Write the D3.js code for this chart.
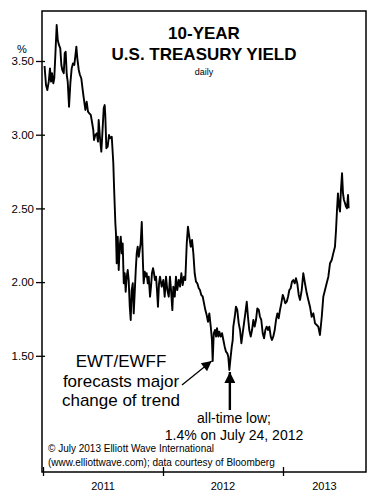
<!DOCTYPE html>
<html><head><meta charset="utf-8">
<script src="https://cdn.jsdelivr.net/npm/d3@7"></script>
<style>html,body{margin:0;padding:0;background:#fff;}svg{display:block;font-family:"Liberation Sans",Arial,sans-serif;}</style>
</head><body>
<script>
// decimal-year dates of the daily series (sampled)
const dates = [2011.013,2011.025,2011.036,2011.048,2011.058,2011.067,2011.075,2011.086,2011.094,2011.103,2011.114,2011.123,2011.133,2011.144,2011.153,2011.161,2011.173,2011.181,2011.189,2011.198,2011.206,2011.217,2011.228,2011.239,2011.250,2011.261,2011.269,2011.278,2011.286,2011.298,2011.308,2011.319,2011.331,2011.342,2011.353,2011.364,2011.375,2011.386,2011.398,2011.408,2011.419,2011.425,2011.436,2011.448,2011.458,2011.464,2011.475,2011.486,2011.494,2011.506,2011.514,2011.519,2011.528,2011.539,2011.550,2011.558,2011.573,2011.586,2011.592,2011.598,2011.603,2011.608,2011.614,2011.623,2011.631,2011.639,2011.648,2011.656,2011.664,2011.673,2011.681,2011.689,2011.698,2011.706,2011.714,2011.723,2011.731,2011.739,2011.748,2011.756,2011.764,2011.773,2011.781,2011.789,2011.798,2011.806,2011.814,2011.823,2011.829,2011.833,2011.839,2011.848,2011.856,2011.864,2011.873,2011.881,2011.892,2011.900,2011.908,2011.917,2011.925,2011.933,2011.942,2011.950,2011.958,2011.967,2011.975,2011.989,2012.003,2012.014,2012.025,2012.036,2012.048,2012.058,2012.067,2012.078,2012.086,2012.098,2012.108,2012.119,2012.131,2012.142,2012.153,2012.164,2012.175,2012.186,2012.198,2012.208,2012.219,2012.231,2012.242,2012.253,2012.264,2012.275,2012.286,2012.298,2012.308,2012.319,2012.331,2012.342,2012.353,2012.364,2012.375,2012.386,2012.398,2012.408,2012.414,2012.423,2012.433,2012.442,2012.450,2012.461,2012.469,2012.481,2012.492,2012.503,2012.514,2012.525,2012.536,2012.544,2012.553,2012.564,2012.573,2012.581,2012.586,2012.598,2012.608,2012.619,2012.631,2012.642,2012.653,2012.664,2012.675,2012.686,2012.698,2012.708,2012.719,2012.731,2012.742,2012.753,2012.764,2012.775,2012.786,2012.798,2012.808,2012.819,2012.831,2012.842,2012.853,2012.864,2012.875,2012.886,2012.898,2012.908,2012.919,2012.931,2012.942,2012.953,2012.964,2012.975,2012.986,2012.998,2013.008,2013.019,2013.031,2013.042,2013.053,2013.064,2013.075,2013.086,2013.098,2013.108,2013.119,2013.131,2013.142,2013.156,2013.169,2013.183,2013.198,2013.211,2013.225,2013.239,2013.253,2013.267,2013.281,2013.294,2013.308,2013.323,2013.336,2013.350,2013.364,2013.378,2013.392,2013.406,2013.419,2013.433,2013.442,2013.450,2013.458,2013.467,2013.475,2013.483,2013.492,2013.500,2013.508,2013.517,2013.525,2013.533,2013.542,2013.547];
// 10-year yield, %
const yields = [3.466,3.337,3.303,3.360,3.450,3.360,3.417,3.349,3.383,3.541,3.744,3.642,3.609,3.586,3.473,3.439,3.417,3.552,3.563,3.405,3.360,3.190,3.349,3.450,3.484,3.473,3.529,3.597,3.518,3.439,3.405,3.383,3.303,3.235,3.168,3.224,3.156,3.145,3.134,3.088,3.032,2.964,2.998,3.010,2.953,3.100,2.976,2.885,2.998,3.179,3.201,3.134,2.908,2.919,2.998,2.976,2.986,2.806,2.647,2.511,2.399,2.331,2.128,2.308,2.082,2.240,2.308,2.195,2.263,1.992,2.060,1.935,2.037,2.082,2.014,1.833,1.743,1.946,1.992,1.788,1.924,2.082,2.195,2.240,2.172,2.218,2.263,2.408,2.240,2.128,1.992,2.071,2.037,2.060,1.992,2.037,1.901,1.969,2.060,2.094,2.060,2.014,2.037,1.946,1.833,1.992,2.037,1.969,2.014,1.901,2.037,1.946,1.901,2.037,1.946,1.810,1.969,1.901,2.037,1.946,2.014,1.969,2.060,1.980,2.037,2.014,2.263,2.376,2.308,2.240,2.286,2.195,2.060,2.003,1.992,1.958,1.946,1.913,1.901,1.856,1.810,1.777,1.731,1.788,1.697,1.607,1.465,1.653,1.675,1.630,1.687,1.630,1.664,1.630,1.653,1.607,1.562,1.528,1.517,1.494,1.404,1.494,1.562,1.607,1.698,1.765,1.833,1.811,1.720,1.675,1.585,1.653,1.720,1.788,1.867,1.765,1.675,1.630,1.675,1.743,1.698,1.743,1.822,1.811,1.765,1.743,1.653,1.619,1.675,1.698,1.675,1.698,1.630,1.607,1.630,1.675,1.743,1.788,1.754,1.811,1.856,1.913,1.890,1.856,1.867,1.901,1.946,1.958,2.003,2.014,1.992,2.026,1.992,1.913,1.879,1.946,2.060,1.992,1.924,1.879,1.833,1.765,1.788,1.720,1.709,1.698,1.641,1.765,1.901,1.946,1.992,2.037,2.128,2.150,2.195,2.240,2.354,2.489,2.602,2.512,2.478,2.625,2.738,2.602,2.557,2.535,2.512,2.501,2.591,2.501];
const yTicks = [1.5, 2.0, 2.5, 3.0, 3.5];
const yearTicks = [2011, 2012, 2013];
const yearLabels = ["2011", "2012", "2013"];
const titleLines = ["10-YEAR", "U.S. TREASURY YIELD"];
const subtitle = "daily";
const noteForecast = ["EWT/EWFF", "forecasts major", "change of trend"];
const noteLow = ["all-time low;", "1.4% on July 24, 2012"];
const lowPoint = {date: 2012.553, value: 1.40};
const forecastPoint = {date: 2012.414, value: 1.465};
const credits = ["\u00A9 July 2013 Elliott Wave International", "(www.elliottwave.com); data courtesy of Bloomberg"];

const W = 377, H = 502;
const L = 42, R = 366, T = 11, B = 472;
const xEnd = 2011 + (R - 43) / 120;
const x = d3.scaleLinear().domain([2011, xEnd]).range([43, R]);
const y = d3.scaleLinear().domain([3.5 - (B - 61) / 147.4, 3.5 + (61 - T) / 147.4]).range([B, T]);

const svg = d3.select("body").append("svg").attr("width", W).attr("height", H);

// frame
svg.append("rect").attr("x", L).attr("y", T).attr("width", R - L).attr("height", B - T)
  .attr("fill", "none").attr("stroke", "#000").attr("stroke-width", 1.5);

// y axis
const yAxis = svg.append("g").attr("transform", `translate(${L},0)`)
  .call(d3.axisLeft(y).tickValues(yTicks).tickFormat(d3.format(".2f")).tickSize(6).tickPadding(2));
yAxis.select(".domain").remove();
yAxis.selectAll(".tick line").attr("x2", -6).attr("x1", 3).attr("stroke-width", 1.3);
yAxis.selectAll(".tick text").attr("font-size", 11.5).attr("fill", "#000").attr("font-family", "Liberation Sans, Arial, sans-serif");
svg.append("text").attr("x", 22).attr("y", y(3.5) - 8).attr("text-anchor", "middle")
  .attr("font-size", 11).text("%");

// x axis
const xAxis = svg.append("g").attr("transform", `translate(0,${B})`)
  .call(d3.axisBottom(x).tickValues(yearTicks).tickFormat("").tickSize(5));
xAxis.select(".domain").remove();
xAxis.selectAll(".tick line").attr("y1", -5).attr("y2", 4).attr("stroke-width", 1.3);
const labelPos = yearTicks.map((t, i) => i < yearTicks.length - 1 ? (t + yearTicks[i + 1]) / 2 : (t + xEnd) / 2);
svg.selectAll(".yr").data(yearLabels).enter().append("text")
  .attr("x", (d, i) => x(labelPos[i])).attr("y", B + 18).attr("text-anchor", "middle")
  .attr("font-size", 11).text(d => d);

// line
const pts = dates.map((d, i) => [d, yields[i]]);
svg.append("path").datum(pts)
  .attr("d", d3.line().x(d => x(d[0])).y(d => y(d[1])))
  .attr("fill", "none").attr("stroke", "#000").attr("stroke-width", 1.9).attr("stroke-linejoin", "round");

// title
svg.selectAll(".ttl").data(titleLines).enter().append("text")
  .attr("x", 204).attr("y", (d, i) => 39 + i * 21).attr("text-anchor", "middle")
  .attr("font-size", 17).attr("font-weight", "bold").text(d => d);
svg.append("text").attr("x", 204).attr("y", 75).attr("text-anchor", "middle").attr("font-size", 9).text(subtitle);

// annotations
svg.selectAll(".nf").data(noteForecast).enter().append("text")
  .attr("x", 121).attr("y", (d, i) => 367 + i * 19.5).attr("text-anchor", "middle")
  .attr("font-size", 17).text(d => d);
svg.selectAll(".nl").data(noteLow).enter().append("text")
  .attr("x", 234).attr("y", (d, i) => 423 + i * 16.5).attr("text-anchor", "middle")
  .attr("font-size", 14).text(d => d);

const defs = svg.append("defs");
defs.append("marker").attr("id", "ah").attr("viewBox", "0 0 10 10").attr("refX", 10).attr("refY", 5)
  .attr("markerWidth", 14).attr("markerHeight", 10).attr("markerUnits", "userSpaceOnUse").attr("orient", "auto")
  .append("path").attr("d", "M0,0L10,5L0,10Z").attr("fill", "#000");
defs.append("marker").attr("id", "ah2").attr("viewBox", "0 0 10 10").attr("refX", 10).attr("refY", 5)
  .attr("markerWidth", 15).attr("markerHeight", 11).attr("markerUnits", "userSpaceOnUse").attr("orient", "auto")
  .append("path").attr("d", "M0,0L10,5L0,10Z").attr("fill", "#000");

const fx = x(forecastPoint.date) - 1, fy = y(forecastPoint.value);
svg.append("line").attr("x1", 182).attr("y1", 385).attr("x2", fx).attr("y2", fy)
  .attr("stroke", "#000").attr("stroke-width", 1.3).attr("marker-end", "url(#ah)");
const lx = x(lowPoint.date) + 0.5, ly = y(lowPoint.value) + 1.5;
svg.append("line").attr("x1", lx).attr("y1", 410).attr("x2", lx).attr("y2", ly)
  .attr("stroke", "#000").attr("stroke-width", 2.4).attr("marker-end", "url(#ah2)");

// credits
svg.selectAll(".cr").data(credits).enter().append("text")
  .attr("x", 48).attr("y", (d, i) => 452 + i * 14).attr("font-size", 10).text(d => d);
</script>
</body></html>
